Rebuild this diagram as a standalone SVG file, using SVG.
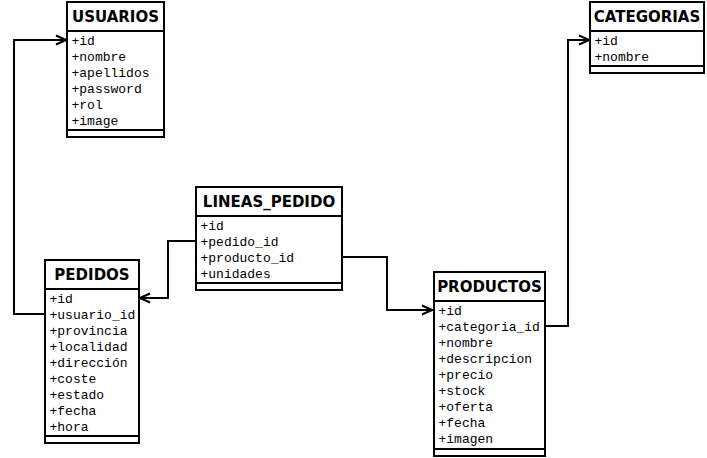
<svg xmlns="http://www.w3.org/2000/svg" width="707" height="458" viewBox="0 0 707 458">
<style>
.box{fill:#fff;stroke:#000;stroke-width:2}
.ln{stroke:#000;stroke-width:2;fill:none}
.hd{font-family:"DejaVu Sans","Liberation Sans",sans-serif;font-weight:bold;font-size:15px;text-anchor:middle;fill:#000}
.at{font-family:"Liberation Mono","Courier New",monospace;font-size:13px;fill:#000}
.cn{stroke:#000;stroke-width:2;fill:none;marker-end:url(#arr)}
</style>
<defs>
<marker id="arr" markerUnits="userSpaceOnUse" viewBox="0 0 12 12" refX="11" refY="6" markerWidth="12" markerHeight="12" orient="auto">
<path d="M1,1.5 L11,6 L1,10.5" fill="none" stroke="#000" stroke-width="2"/>
</marker>
</defs>
<rect width="707" height="458" fill="#fff"/>
<g id="connectors">
<path class="cn" d="M44,314 H14 V40 H66"/>
<path class="cn" d="M196,241 H168 V298 H140"/>
<path class="cn" d="M342,257 H387 V310 H432"/>
<path class="cn" d="M545,326 H568 V40 H589"/>
</g>
<g id="usuarios">
<rect class="box" x="67" y="2" width="97" height="135"/>
<line class="ln" x1="67" y1="31" x2="164" y2="31"/>
<line class="ln" x1="67" y1="130" x2="164" y2="130"/>
<text class="hd" x="115.5" y="22">USUARIOS</text>
<text class="at" x="71.5" y="45">+id</text>
<text class="at" x="71.5" y="61">+nombre</text>
<text class="at" x="71.5" y="77">+apellidos</text>
<text class="at" x="71.5" y="93">+password</text>
<text class="at" x="71.5" y="109">+rol</text>
<text class="at" x="71.5" y="125">+image</text>
</g>
<g id="categorias">
<rect class="box" x="590" y="2" width="114" height="71"/>
<line class="ln" x1="590" y1="31" x2="704" y2="31"/>
<line class="ln" x1="590" y1="66" x2="704" y2="66"/>
<text class="hd" x="647" y="22">CATEGORIAS</text>
<text class="at" x="594.5" y="45">+id</text>
<text class="at" x="594.5" y="61">+nombre</text>
</g>
<g id="lineas_pedido">
<rect class="box" x="196" y="187" width="146" height="103"/>
<line class="ln" x1="196" y1="216" x2="342" y2="216"/>
<line class="ln" x1="196" y1="283" x2="342" y2="283"/>
<text class="hd" x="269" y="207">LINEAS_PEDIDO</text>
<text class="at" x="200.5" y="230">+id</text>
<text class="at" x="200.5" y="246">+pedido_id</text>
<text class="at" x="200.5" y="262">+producto_id</text>
<text class="at" x="200.5" y="278">+unidades</text>
</g>
<g id="pedidos">
<rect class="box" x="45" y="260" width="94" height="183"/>
<line class="ln" x1="45" y1="289" x2="139" y2="289"/>
<line class="ln" x1="45" y1="436" x2="139" y2="436"/>
<text class="hd" x="92" y="280">PEDIDOS</text>
<text class="at" x="49.5" y="303">+id</text>
<text class="at" x="49.5" y="319">+usuario_id</text>
<text class="at" x="49.5" y="335">+provincia</text>
<text class="at" x="49.5" y="351">+localidad</text>
<text class="at" x="49.5" y="367">+dirección</text>
<text class="at" x="49.5" y="383">+coste</text>
<text class="at" x="49.5" y="399">+estado</text>
<text class="at" x="49.5" y="415">+fecha</text>
<text class="at" x="49.5" y="431">+hora</text>
</g>
<g id="productos">
<rect class="box" x="434" y="272" width="111" height="184"/>
<line class="ln" x1="434" y1="301" x2="545" y2="301"/>
<line class="ln" x1="434" y1="449" x2="545" y2="449"/>
<text class="hd" x="489.5" y="292">PRODUCTOS</text>
<text class="at" x="438.5" y="315">+id</text>
<text class="at" x="438.5" y="331">+categoria_id</text>
<text class="at" x="438.5" y="347">+nombre</text>
<text class="at" x="438.5" y="363">+descripcion</text>
<text class="at" x="438.5" y="379">+precio</text>
<text class="at" x="438.5" y="395">+stock</text>
<text class="at" x="438.5" y="411">+oferta</text>
<text class="at" x="438.5" y="427">+fecha</text>
<text class="at" x="438.5" y="443">+imagen</text>
</g>
</svg>
